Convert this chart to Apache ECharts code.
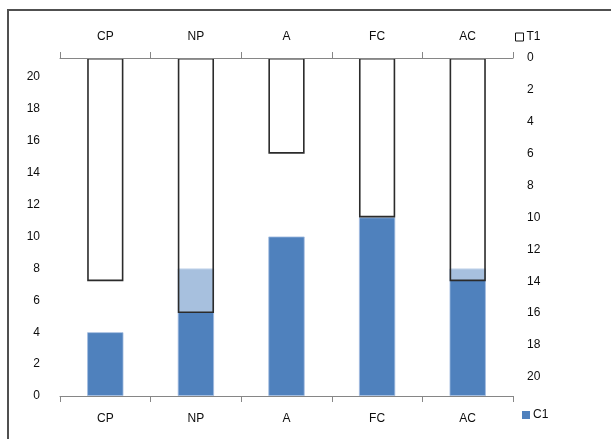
<!DOCTYPE html>
<html>
<head>
<meta charset="utf-8">
<script src="https://cdn.jsdelivr.net/npm/echarts@6/dist/echarts.min.js"></script>
<style>
  html, body { margin: 0; padding: 0; background: #fff; }
  #chart { width: 611px; height: 439px; }
</style>
</head>
<body>
<div id="chart"></div>
<script>
// Categories shared by the top and bottom axes
const categories = ['CP', 'NP', 'A', 'FC', 'AC'];
// C1 grows up from the bottom (left axis)
const c1Values = [4, 8, 10, 11.2, 8];
// T1 hangs down from the top (right axis, inverted)
const t1Values = [14, 16, 6, 10, 14];
// Tick label steps for both value axes
const axisMax = 21.2;
const axisStep = 2;

const font = 'Liberation Sans, Arial, sans-serif';
const textColor = '#0d0d0d';
const axisGray = '#868686';

const chart = echarts.init(document.getElementById('chart'), null, { renderer: 'canvas' });

chart.setOption({
  animation: false,
  backgroundColor: '#fff',
  textStyle: { fontFamily: font },
  graphic: [{
    type: 'rect',
    shape: { x: 8, y: 10, width: 700, height: 600 },
    style: { fill: 'none', stroke: '#505050', lineWidth: 2 },
    silent: true
  }],
  grid: { left: 60, right: 98, top: 58, bottom: 43, containLabel: false },
  legend: [{
    data: ['T1'],
    left: 510, top: 26,
    itemWidth: 8, itemHeight: 8, itemGap: 4,
    icon: 'rect',
    itemStyle: { borderWidth: 1, borderColor: '#111' },
    textStyle: { fontFamily: font, fontSize: 12, color: textColor, padding: [0, 0, 0, -2] }
  }, {
    data: ['C1'],
    left: 517, top: 404,
    itemWidth: 8, itemHeight: 8, itemGap: 4,
    icon: 'rect',
    itemStyle: { borderWidth: 0 },
    textStyle: { fontFamily: font, fontSize: 12, color: textColor, padding: [0, 0, 0, -2] }
  }],
  xAxis: [{
    type: 'category',
    position: 'bottom',
    data: categories,
    boundaryGap: true,
    z: 4,
    axisLine: { show: true, lineStyle: { color: axisGray, width: 1 } },
    axisTick: { show: true, length: 6, lineStyle: { color: axisGray } },
    axisLabel: { margin: 17, fontFamily: font, fontSize: 12, color: textColor },
    splitLine: { show: false }
  }, {
    type: 'category',
    position: 'top',
    data: categories,
    boundaryGap: true,
    z: 4,
    axisLine: { show: true, lineStyle: { color: axisGray, width: 1 } },
    axisTick: { show: true, length: 6, lineStyle: { color: axisGray } },
    axisLabel: { margin: 15, fontFamily: font, fontSize: 12, color: textColor },
    splitLine: { show: false }
  }],
  yAxis: [{
    type: 'value',
    position: 'left',
    min: 0, max: axisMax, interval: axisStep,
    axisLine: { show: false },
    axisTick: { show: false },
    splitLine: { show: false },
    axisLabel: { margin: 20, showMaxLabel: false, fontFamily: font, fontSize: 12, color: textColor }
  }, {
    type: 'value',
    position: 'right',
    inverse: true,
    min: 0, max: axisMax, interval: axisStep,
    axisLine: { show: false },
    axisTick: { show: false },
    splitLine: { show: false },
    axisLabel: { margin: 14, showMaxLabel: false, fontFamily: font, fontSize: 12, color: textColor, align: 'left' }
  }],
  series: [{
    name: 'C1',
    type: 'bar',
    xAxisIndex: 0,
    yAxisIndex: 0,
    data: c1Values,
    barWidth: '40%',
    itemStyle: { color: '#4f81bd', borderColor: '#a2bbdf', borderWidth: 0.8 },
    z: 2
  }, {
    name: 'T1',
    type: 'bar',
    xAxisIndex: 1,
    yAxisIndex: 1,
    data: t1Values,
    barWidth: '40%',
    itemStyle: { color: 'rgba(255,255,255,0.5)', borderColor: '#2b2b2b', borderWidth: 1.6 },
    z: 3
  }]
});
</script>
</body>
</html>
